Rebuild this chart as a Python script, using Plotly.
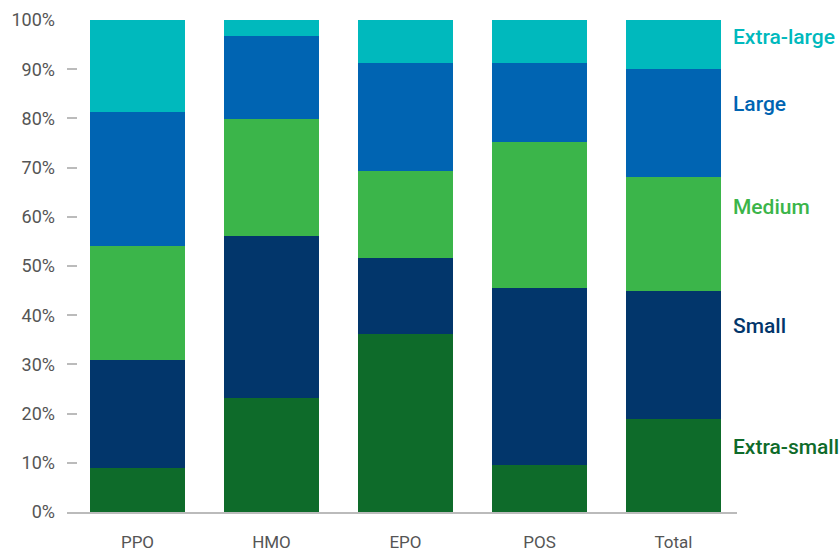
import plotly.graph_objects as go

categories = ["PPO", "HMO", "EPO", "POS", "Total"]
extra_small = [8.9, 23.2, 36.2, 9.6, 18.9]
small = [22.0, 32.9, 15.4, 35.9, 26.0]
medium = [23.2, 23.8, 17.7, 29.7, 23.2]
large = [27.2, 16.8, 22.0, 16.1, 21.9]
extra_large = [18.7, 3.3, 8.7, 8.7, 10.0]
y_ticks = [0, 10, 20, 30, 40, 50, 60, 70, 80, 90, 100]
y_tick_labels = [f"{v}%" for v in y_ticks]

series = [
    ("Extra-small", extra_small, "#0e6b2a"),
    ("Small", small, "#02366b"),
    ("Medium", medium, "#3bb54a"),
    ("Large", large, "#0064b2"),
    ("Extra-large", extra_large, "#00b9bd"),
]
label_y = [13.2, 37.8, 62.0, 82.9, 96.5]

fig = go.Figure()
for name, vals, col in series:
    fig.add_trace(go.Bar(x=list(range(len(categories))), y=vals, name=name,
                         marker=dict(color=col, line=dict(width=0)), showlegend=False))

ann = []
for (name, vals, col), ly in zip(series, label_y):
    ann.append(dict(x=0.9955, xref="paper", y=ly, yref="y", text=name, showarrow=False,
                    xanchor="left", yanchor="middle", xshift=-3,
                    font=dict(family="Roboto", size=21, color=col, weight=500)))

fig.update_layout(
    width=840, height=552, barmode="stack", bargap=0.29,
    margin=dict(l=67, r=103, t=20, b=40, autoexpand=False),
    paper_bgcolor="white", plot_bgcolor="white",
    annotations=ann,
    font=dict(family="Roboto", color="#555555"),
    xaxis=dict(range=[-0.526, 4.474], tickmode="array", tickvals=list(range(len(categories))),
               ticktext=categories, showgrid=False, zeroline=False, showline=True,
               linecolor="#bbbbbb", linewidth=1.5, ticks="", ticklabelstandoff=14,
               automargin=False,
               tickfont=dict(size=17, color="#555555")),
    yaxis=dict(range=[0, 100], tickmode="array", tickvals=y_ticks, ticktext=y_tick_labels,
               showgrid=False, zeroline=False, showline=False, ticks="inside", ticklen=10,
               tickcolor="#bbbbbb", tickwidth=1.5, ticklabelstandoff=11, automargin=False,
               tickfont=dict(size=18, color="#555555")),
)

fig.write_html("out.html")
